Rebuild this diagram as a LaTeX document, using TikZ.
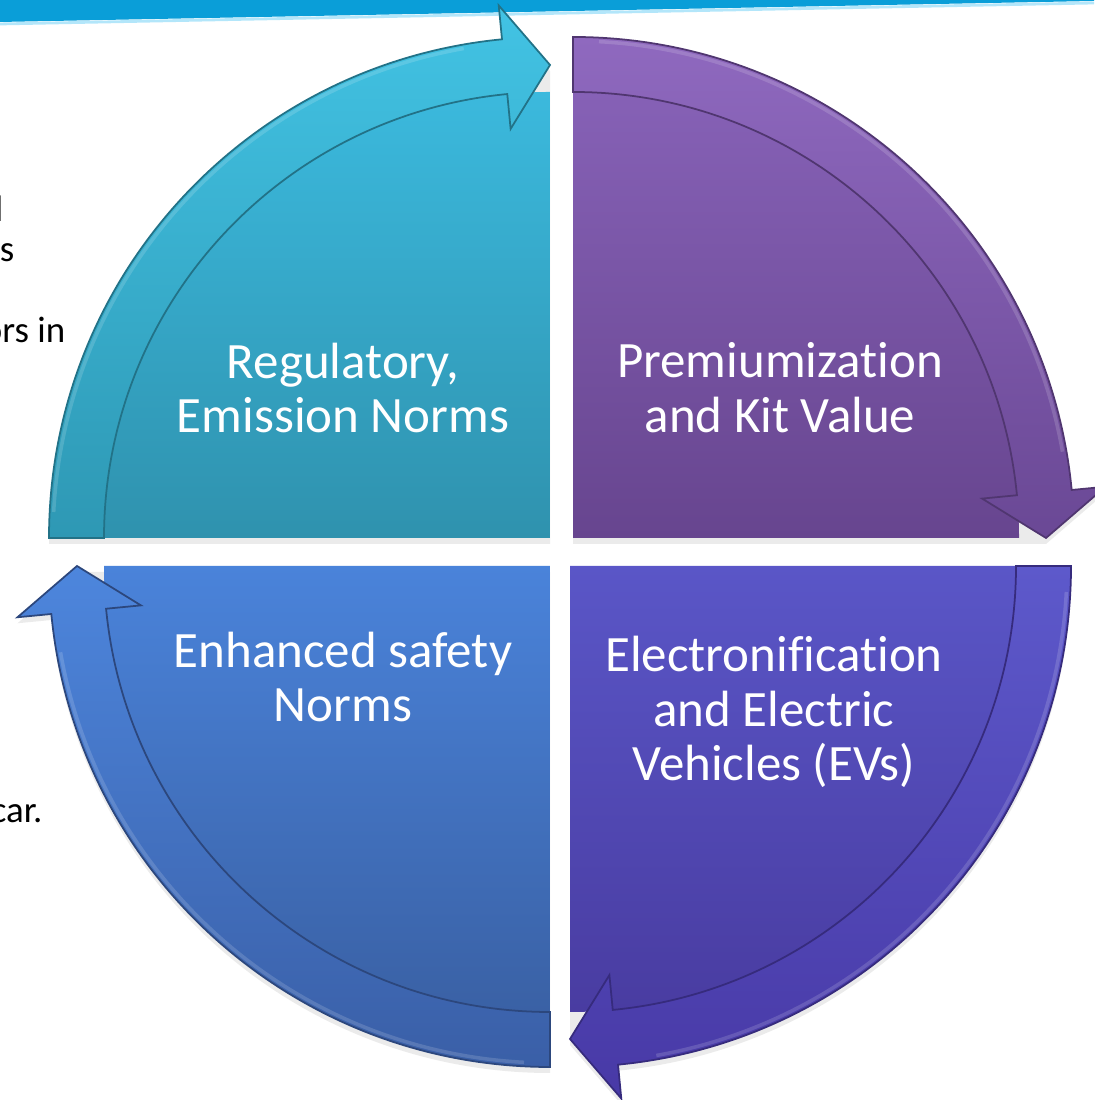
\documentclass[tikz,border=0pt]{standalone}
\usepackage{fontspec}
\setmainfont{Carlito}[Ligatures=NoCommon]

\definecolor{cyanT}{HTML}{3BB9DD}
\definecolor{cyanB}{HTML}{2F92AE}
\definecolor{cyanBandT}{HTML}{42C3E4}
\definecolor{cyanBandB}{HTML}{2E98B4}
\definecolor{purpT}{HTML}{8661B6}
\definecolor{purpB}{HTML}{67458F}
\definecolor{purpBandT}{HTML}{8F69BF}
\definecolor{purpBandB}{HTML}{6A4895}
\definecolor{indT}{HTML}{5A56C7}
\definecolor{indB}{HTML}{493CA1}
\definecolor{indBandT}{HTML}{5D59CB}
\definecolor{indBandB}{HTML}{4839A6}
\definecolor{bluT}{HTML}{4A83DA}
\definecolor{bluB}{HTML}{3A61A5}
\definecolor{bluBandT}{HTML}{4D86DD}
\definecolor{bluBandB}{HTML}{3A5FA7}
\definecolor{topbar}{HTML}{0A9ED8}

\begin{document}
\begin{tikzpicture}[x=0.1mm, y=0.1mm,
    quarter/.style={line width=0.5pt},
    label/.style={text=white, align=center, font=\fontsize{14.5}{15.6}\selectfont},
    side/.style={text=black, anchor=base east, inner sep=0pt, font=\fontsize{10.5}{12}\selectfont}]
\useasboundingbox (0,0) rectangle (1094,1100);

% slide header strip
\fill[topbar] (0,1100) -- (1094,1100) -- (1094,1099) -- (0,1078) -- cycle;
\draw[cyan!30, line width=0.8pt] (0,1076) -- (1094,1097);

% cut-off slide text on the left
\node[side] (side1) at (4,878) {l};
\node[side] (side2) at (15,838) {ts};
\node[side] (side3) at (66,757) {ors in};
\node[side] (side4) at (43,277) {car.};

% four quarters: corner x/y, start angle, fill colours, band colours
\foreach \cx/\cy/\a/\ct/\cb/\bt/\bb in {
    550/562/180/cyanT/cyanB/cyanBandT/cyanBandB,
    573/562/90/purpT/purpB/purpBandT/purpBandB,
    570/534/0/indT/indB/indBandT/indBandB,
    550/534/-90/bluT/bluB/bluBandT/bluBandB}
{
  \begin{scope}[shift={(\cx,\cy)}]
    % faint shadow
    \fill[black, opacity=0.08, shift={(0,-6)}]
      (0,0) -- ({\a}:501) arc[start angle=\a, end angle=\a-84.5, radius=501]
      -- ({\a-84.5}:535) -- ({\a-90}:473) -- ({\a-90}:446) -- cycle;
    \path[top color=\ct, bottom color=\cb]
      (0,0) -- ({\a}:446) arc[start angle=\a, end angle=\a-90, radius=446] -- cycle;
    \path[quarter, draw=\bb!75!black, top color=\bt, bottom color=\bb]
      ({\a}:501) arc[start angle=\a, end angle=\a-84.5, radius=501]
      -- ({\a-84.5}:535) -- ({\a-90}:473) -- ({\a-84.5}:411) -- ({\a-84.5}:446)
      arc[start angle=\a-84.5, end angle=\a, radius=446] -- cycle;
    \draw[white, opacity=0.15, line width=1pt]
      ({\a-3}:497) arc[start angle=\a-3, end angle=\a-80, radius=497];
  \end{scope}
}

\node[label] (reg) at (343,712) {Regulatory,\\Emission Norms};
\node[label] (prem) at (780,712) {Premiumization\\and Kit Value};
\node[label] (elec) at (774,388) {Electronification\\and Electric\\Vehicles (EVs)};
\node[label] (safety) at (343,423) {Enhanced safety\\Norms};
\end{tikzpicture}
\end{document}
